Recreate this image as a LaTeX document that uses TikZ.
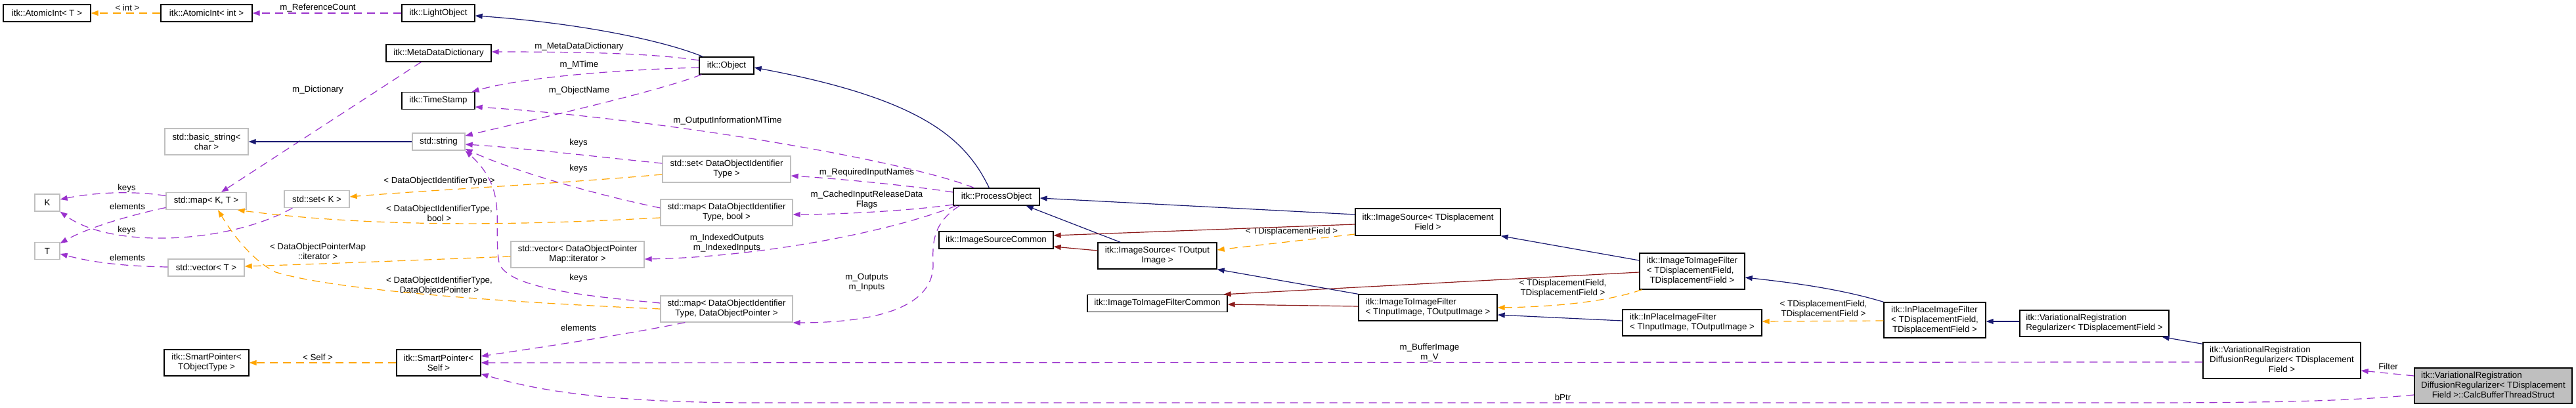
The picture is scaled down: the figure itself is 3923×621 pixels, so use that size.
\documentclass[tikz,border=0pt]{standalone}
\usepackage{fontspec}
\setmainfont{Liberation Sans}
\usetikzlibrary{arrows.meta,calc}
\definecolor{cnavy}{HTML}{191970}
\definecolor{cpurp}{HTML}{9A32CD}
\definecolor{corange}{HTML}{FFA500}
\definecolor{cred}{HTML}{8B1A1A}
\definecolor{cgray}{HTML}{BFBFBF}
\newcommand{\lastc}[1]{\multicolumn{1}{@{}c@{}}{#1}}
\begin{document}
\begin{tikzpicture}[x=1pt,y=-1pt,
  boxbase/.style={draw, rectangle, inner sep=0pt, line width=1.3pt, font=\fontsize{13.3}{15}\selectfont},
  cls/.style={boxbase, draw=black, align=center},
  clsl/.style={boxbase, draw=black, align=left},
  clst/.style={boxbase, draw=black},
  stdc/.style={boxbase, draw=cgray, align=center},
  cur/.style={boxbase, draw=black, fill=cgray},
  wh/.style 2 args={minimum width=#1pt, minimum height=#2pt},
  lbl/.style={inner sep=0pt, font=\fontsize{13.3}{15}\selectfont, align=center},
  inh/.style={draw=cnavy, line width=1.2pt, -{Triangle[length=11pt,width=8pt]}},
  inhr/.style={draw=cred, line width=1.2pt, -{Triangle[length=11pt,width=8pt]}},
  mem/.style={draw=cpurp, line width=1.2pt, dash pattern=on 12pt off 8pt, -{Triangle[length=11pt,width=8pt]}},
  tpl/.style={draw=corange, line width=1.2pt, dash pattern=on 12pt off 8pt, -{Triangle[length=11pt,width=8pt]}}
]
\useasboundingbox[fill=white] (0,0) rectangle (3923,621);

% ---------- nodes ----------
\node[cls, wh={133}{26}] (aT) at (71.5,20) {itk::AtomicInt< T >};
\node[cls, wh={139}{26}] (aI) at (314.5,20) {itk::AtomicInt< int >};
\node[cls, wh={111}{26}] (lo) at (667.5,20) {itk::LightObject};
\node[cls, wh={160}{26}] (mdd) at (668,81) {itk::MetaDataDictionary};
\node[cls, wh={111}{26}] (ts) at (667.5,153.5) {itk::TimeStamp};
\node[stdc, wh={127}{40}] (bs) at (314.5,216) {std::basic\_string<\\char >};
\node[stdc, wh={80}{26}] (str) at (668,216) {std::string};
\node[stdc, wh={38}{26}] (K) at (72,309) {K};
\node[stdc, wh={122}{26}] (mapKT) at (314,306.5) {std::map< K, T >};
\node[stdc, wh={99}{26}] (setK) at (482.5,303.5) {std::set< K >};
\node[stdc, wh={38}{26}] (T) at (72,382.5) {T};
\node[stdc, wh={116}{26}] (vecT) at (314,408) {std::vector< T >};
\node[cls, wh={129}{40}] (spT) at (314.5,553) {itk::SmartPointer<\\TObjectType >};
\node[cls, wh={128}{40}] (spS) at (668,553) {itk::SmartPointer<\\Self >};
\node[cls, wh={83}{26}] (obj) at (1106.5,100) {itk::Object};
\node[stdc, wh={195}{40}] (setD) at (1106.5,258) {std::set< DataObjectIdentifier\\Type >};
\node[stdc, wh={201}{40}] (mapDB) at (1106.5,324) {std::map< DataObjectIdentifier\\Type, bool >};
\node[stdc, wh={203}{40}] (vecD) at (879.5,388) {std::vector< DataObjectPointer\\Map::iterator >};
\node[stdc, wh={201}{40}] (mapDP) at (1106.5,471) {std::map< DataObjectIdentifier\\Type, DataObjectPointer >};
\node[cls, wh={131}{26}] (po) at (1517.5,300) {itk::ProcessObject};
\node[cls, wh={174}{26}] (isc) at (1517,366) {itk::ImageSourceCommon};
\node[cls, wh={181}{40}] (isO) at (1762.5,390) {itk::ImageSource< TOutput\\Image >};
\node[cls, wh={213}{26}] (itic) at (1762.5,462.5) {itk::ImageToImageFilterCommon};
\node[cls, wh={221}{41}] (isD) at (2174.5,338.5) {itk::ImageSource< TDisplacement\\Field >};
\node[clsl, wh={211}{40}] (itiIO) at (2174.5,469) {itk::ImageToImageFilter\\< TInputImage, TOutputImage >};
\node[clst, wh={160}{55}] (itiD) at (2577,413.5) {\begin{tabular}{@{}l@{}}itk::ImageToImageFilter\\< TDisplacementField,\\\lastc{TDisplacementField >}\end{tabular}};
\node[clsl, wh={212}{40}] (ipIO) at (2577,492) {itk::InPlaceImageFilter\\< TInputImage, TOutputImage >};
\node[clst, wh={155}{54}] (ipD) at (2946.5,488) {\begin{tabular}{@{}l@{}}itk::InPlaceImageFilter\\< TDisplacementField,\\\lastc{TDisplacementField >}\end{tabular}};
\node[clsl, wh={227}{40}] (vrr) at (3189.5,493) {itk::VariationalRegistration\\Regularizer< TDisplacementField >};
\node[clst, wh={240}{55}] (vrd) at (3475,549.5) {\begin{tabular}{@{}l@{}}itk::VariationalRegistration\\DiffusionRegularizer< TDisplacement\\\lastc{Field >}\end{tabular}};
\node[cur, wh={240}{54}] (cbt) at (3797,588) {\begin{tabular}{@{}l@{}}itk::VariationalRegistration\\DiffusionRegularizer< TDisplacement\\\lastc{Field >::CalcBufferThreadStruct}\end{tabular}};

% ---------- labels ----------
\node[lbl] (l1) at (194,12) {< int >};
\node[lbl] (l2) at (484,12) {m\_ReferenceCount};
\node[lbl] (l3) at (882,71) {m\_MetaDataDictionary};
\node[lbl] (l4) at (882,99) {m\_MTime};
\node[lbl] (l5) at (882,138) {m\_ObjectName};
\node[lbl] (l6) at (1108,184) {m\_OutputInformationMTime};
\node[lbl] (l7) at (484,137) {m\_Dictionary};
\node[lbl] (l8) at (881,218) {keys};
\node[lbl] (l9) at (881,257) {keys};
\node[lbl] (l10) at (669,276) {< DataObjectIdentifierType >};
\node[lbl] (l11) at (1320,263) {m\_RequiredInputNames};
\node[lbl] (l12) at (1320,304.5) {m\_CachedInputReleaseData\\Flags};
\node[lbl] (l13) at (193,287) {keys};
\node[lbl] (l14) at (194,315) {elements};
\node[lbl] (l15) at (193,351) {keys};
\node[lbl] (l16) at (194,393) {elements};
\node[lbl] (l17) at (669,325.5) {< DataObjectIdentifierType,\\bool >};
\node[lbl] (l18) at (484,383.5) {< DataObjectPointerMap\\::iterator >};
\node[lbl] (l19) at (1107,370.5) {m\_IndexedOutputs\\m\_IndexedInputs};
\node[lbl] (l20) at (881,424) {keys};
\node[lbl] (l21) at (669,435.5) {< DataObjectIdentifierType,\\DataObjectPointer >};
\node[lbl] (l22) at (1320,431) {m\_Outputs\\m\_Inputs};
\node[lbl] (l23) at (881,500) {elements};
\node[lbl] (l24) at (484,545) {< Self >};
\node[lbl] (l25) at (2177,538) {m\_BufferImage\\m\_V};
\node[lbl] (l26) at (2380,606) {bPtr};
\node[lbl] (l27) at (1967,353) {< TDisplacementField >};
\node[lbl] (l28) at (2380,439.5) {< TDisplacementField,\\TDisplacementField >};
\node[lbl] (l29) at (2777,472) {< TDisplacementField,\\TDisplacementField >};
\node[lbl] (l30) at (3637,559) {Filter};

% ---------- connectors ----------
\draw[tpl] (aI.west) -- (aT.east);
\draw[mem] (lo.west) -- (aI.east);
\draw[inh] ($(obj.north west)+(6,0)$) .. controls +(-61,-25) and +(157,11) .. ($(lo.east)+(0,4)$);
\draw[mem] ($(obj.west)+(0,-8)$) .. controls +(-65,-10) and +(152,0) .. ($(mdd.east)+(0,-2)$);
\draw[mem] ($(obj.west)+(0,3)$) .. controls +(-115,3) and +(82,-23) .. ($(ts.north east)+(-5,0)$);
\draw[mem] ($(obj.south west)+(4,0)$) .. controls +(-69,27) and +(92,-22) .. ($(str.east)+(0,-9)$);
\draw[mem] ($(po.north west)+(32,0)$) .. controls +(-104,-42) and +(277,17) .. ($(ts.east)+(0,9.5)$);
\draw[mem] ($(po.west)+(0,-7)$) .. controls +(-72,-11) and +(66,4) .. ($(setD.east)+(0,10)$);
\draw[mem] ($(po.west)+(0,12)$) .. controls +(-72,10) and +(63,0) .. ($(mapDB.east)+(0,3)$);
\draw[mem] ($(po.south west)+(5,0)$) .. controls +(-107,42) and +(169,-3) .. ($(vecD.east)+(0,7)$);
\draw[mem] ($(po.south west)+(10,0)$) .. controls (1420,340) and (1420,370) .. (1421,405) .. controls (1420,470) and (1330,492) .. ($(mapDP.east)+(0,21)$);
\draw[mem] ($(setD.west)+(0,-9)$) .. controls +(-109,-11) and +(92,6) .. ($(str.east)+(0,4)$);
\draw[mem] ($(mapDB.west)+(0,-7)$) .. controls +(-106,-22) and +(72,33) .. ($(str.east)+(0,11)$);
\draw[mem] ($(mapDP.west)+(0,-9)$) .. controls (900,452) and (770,440) .. (760,400) .. controls (750,340) and (775,290) .. (str.south east);
\draw[mem] ($(mapDP.south west)+(38,0)$) .. controls +(-94,19) and +(88,-13) .. ($(spS.east)+(0,-10)$);
\draw[mem] ($(vrd.west)+(0,2.5)$) -- (spS.east);
\draw[mem] ($(cbt.west)+(0,14)$) .. controls (3550,614) and (3400,614) .. (3200,614) -- (1150,614) .. controls (900,614) and (800,590) .. ($(spS.east)+(0,17)$);
\draw[mem] ($(cbt.west)+(0,-15)$) -- ($(vrd.east)+(0,15.5)$);
\draw[mem] ($(mdd.south west)+(54,0)$) -- ($(mapKT.north)+(23,0)$);
\draw[mem] ($(mapKT.west)+(0,-8)$) .. controls +(-53,-8.5) and +(49,-10) .. ($(K.east)+(0,-5)$);
\draw[mem] ($(mapKT.west)+(0,10)$) .. controls +(-63,13.5) and +(39,-22) .. ($(T.north east)+(0,2)$);
\draw[mem] ($(setK.south west)+(13,0)$) .. controls +(-96,54) and +(79,58) .. (K.south east);
\draw[mem] ($(vecT.west)+(0,-1)$) .. controls +(-66,-1) and +(49,13) .. ($(T.east)+(0,4.5)$);
\draw[inh] (str.west) -- (bs.east);
\draw[tpl] ($(setD.west)+(0,8)$) .. controls +(-159,14) and +(118,-10) .. ($(setK.east)+(0,-3.5)$);
\draw[tpl] ($(mapDB.west)+(0,8)$) .. controls +(-156,8) and +(239,31) .. ($(mapKT.south east)+(-14,0)$);
\draw[tpl] ($(vecD.west)+(0,3)$) .. controls +(-128,5) and +(128,-4) .. ($(vecT.east)+(0,-2)$);
\draw[tpl] (mapDP.west) .. controls (800,462) and (520,445) .. (420,415) .. controls (380,395) and (350,350) .. ($(mapKT.south)+(18,0)$);
\draw[tpl] (spS.west) -- (spT.east);
\draw[inh] ($(po.north west)+(55,0)$) .. controls +(-37,-77) and +(252,47) .. ($(obj.east)+(0,3)$);
\draw[inh] ($(isD.west)+(0,-11.5)$) -- ($(po.east)+(0,2)$);
\draw[inh] ($(isO.north west)+(35,0)$) -- ($(po.south east)+(-21,0)$);
\draw[inhr] ($(isD.west)+(0,3.5)$) -- ($(isc.east)+(0,-7)$);
\draw[inhr] ($(isO.west)+(0,-8)$) -- ($(isc.east)+(0,10)$);
\draw[tpl] ($(isD.west)+(0,18.5)$) -- ($(isO.east)+(0,-9)$);
\draw[inh] ($(itiD.west)+(0,-16.5)$) -- (isD.south east);
\draw[inhr] ($(itiD.west)+(0,1.5)$) -- ($(itic.north east)+(-6,0)$);
\draw[inhr] ($(itiIO.west)+(0,-2)$) -- ($(itic.east)+(0,1.5)$);
\draw[inh] (itiIO.north west) -- (isO.south east);
\draw[tpl] ($(itiD.south west)+(4,0)$) .. controls +(-61,21) and +(70,-1) .. (itiIO.east);
\draw[inh] ($(ipIO.west)+(0,-3)$) -- ($(itiIO.east)+(0,11)$);
\draw[inh] (ipD.north west) .. controls +(-69,-21) and +(63,7) .. ($(itiD.east)+(0,9.5)$);
\draw[tpl] ($(ipD.west)+(0,1)$) -- ($(ipIO.east)+(0,-2)$);
\draw[inh] ($(vrr.west)+(0,-3)$) -- ($(ipD.east)+(0,2)$);
\draw[inh] ($(vrd.north west)+(0,3)$) -- ($(vrr.south east)+(-11,0)$);
\end{tikzpicture}
\end{document}
